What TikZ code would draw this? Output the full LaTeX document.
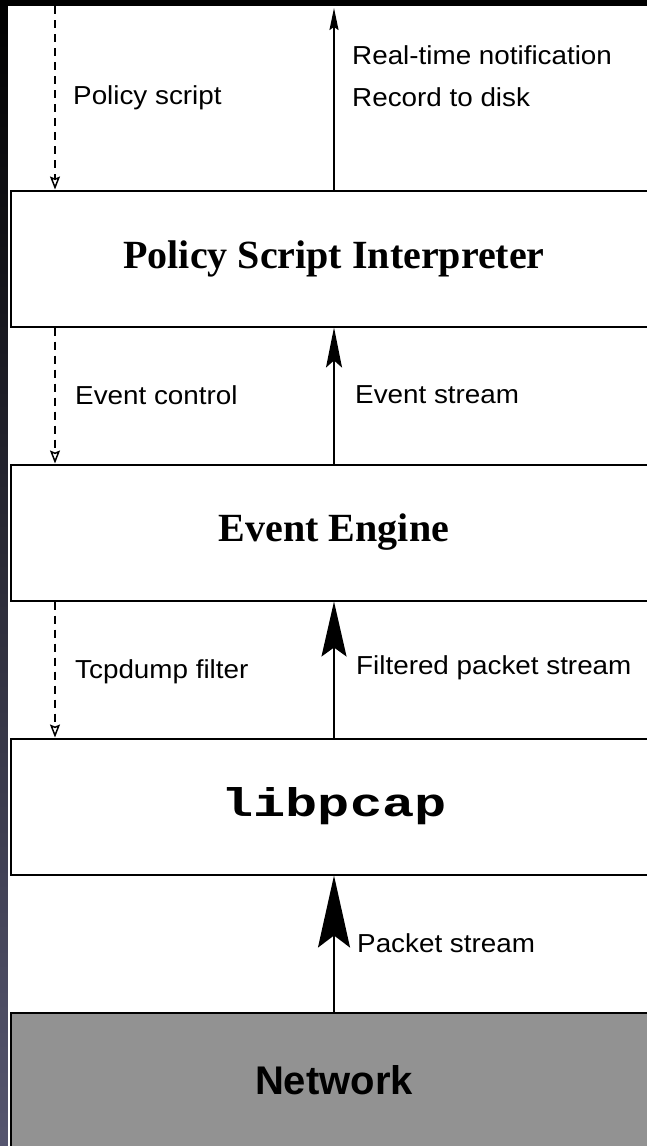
\documentclass[tikz,border=0pt]{standalone}
\usepackage{fontspec}
\setmainfont{Liberation Serif}
\setsansfont{Liberation Sans}
\setmonofont{Liberation Mono}
\newfontfamily\lblfont{Liberation Sans}[FakeStretch=1.07]
\newfontfamily\pcapfont{Liberation Mono}[FakeStretch=1.34]
\usetikzlibrary{positioning,arrows.meta}
\definecolor{netgray}{RGB}{146,146,146}
\definecolor{slate}{RGB}{86,86,112}

\begin{document}
\begin{tikzpicture}[x=1pt, y=-1pt, node distance=136pt,
    layer/.style={rectangle, draw, line width=2pt, minimum width=646pt, minimum height=136pt,
                  inner sep=0pt, font=\fontsize{40}{44}\selectfont\bfseries},
    lbl/.style={anchor=west, inner sep=0pt, font=\lblfont\fontsize{26}{30}\selectfont},
    ctrl/.style={line width=1.5pt, dash pattern=on 8pt off 6pt,
                 -{Stealth[open, length=13pt, width=10pt, inset=2pt]}},
    flow/.style={line width=1.8pt}]

  \useasboundingbox (0,0) rectangle (647,1146);
  \fill[black] (0,0) rectangle (647,1146);
  \shade[top color=black, bottom color=slate] (0,0) rectangle (8,1146);
  \fill[white] (8,6) rectangle (647,1146);

  \node[layer] (psi) at (334,258.5) {Policy Script Interpreter};
  \node[layer] (engine) [below=of psi] {Event Engine};
  \node[layer] (pcap) [below=of engine] {\pcapfont\bfseries libpcap};
  \node[layer, fill=netgray, font=\sffamily\fontsize{40}{44}\selectfont\bfseries] (net) [below=of pcap] {Network};

  \coordinate (out) at (334,8);
  \coordinate (script) at (55,6);

  % control path, top down
  \draw[ctrl] (script) -- (script |- psi.north);
  \draw[ctrl] (script |- psi.south) -- (script |- engine.north);
  \draw[ctrl] (script |- engine.south) -- (script |- pcap.north);

  % data path, bottom up
  \draw[flow, -{Stealth[length=22pt, width=9pt, inset=3pt]}] (psi.north) -- (out);
  \draw[flow, -{Stealth[length=40pt, width=16pt, inset=7pt]}] (engine.north) -- (psi.south);
  \draw[flow, -{Stealth[length=55pt, width=25pt, inset=9pt]}] (pcap.north) -- (engine.south);
  \draw[flow, -{Stealth[length=72pt, width=32pt, inset=12pt]}] (net.north) -- (pcap.south);

  \node[lbl] (pscript) at (73,98) {Policy script};
  \node[lbl] (notify) at (352,55) {Real-time notification};
  \node[lbl] (record) at (352,97) {Record to disk};
  \node[lbl] (evctl) at (75,395) {Event control};
  \node[lbl] (evstr) at (355,395) {Event stream};
  \node[lbl] (tcpd) at (75,672) {Tcpdump filter};
  \node[lbl] (fpkt) at (356,668) {Filtered packet stream};
  \node[lbl] (pkt) at (357,943) {Packet stream};
\end{tikzpicture}
\end{document}
